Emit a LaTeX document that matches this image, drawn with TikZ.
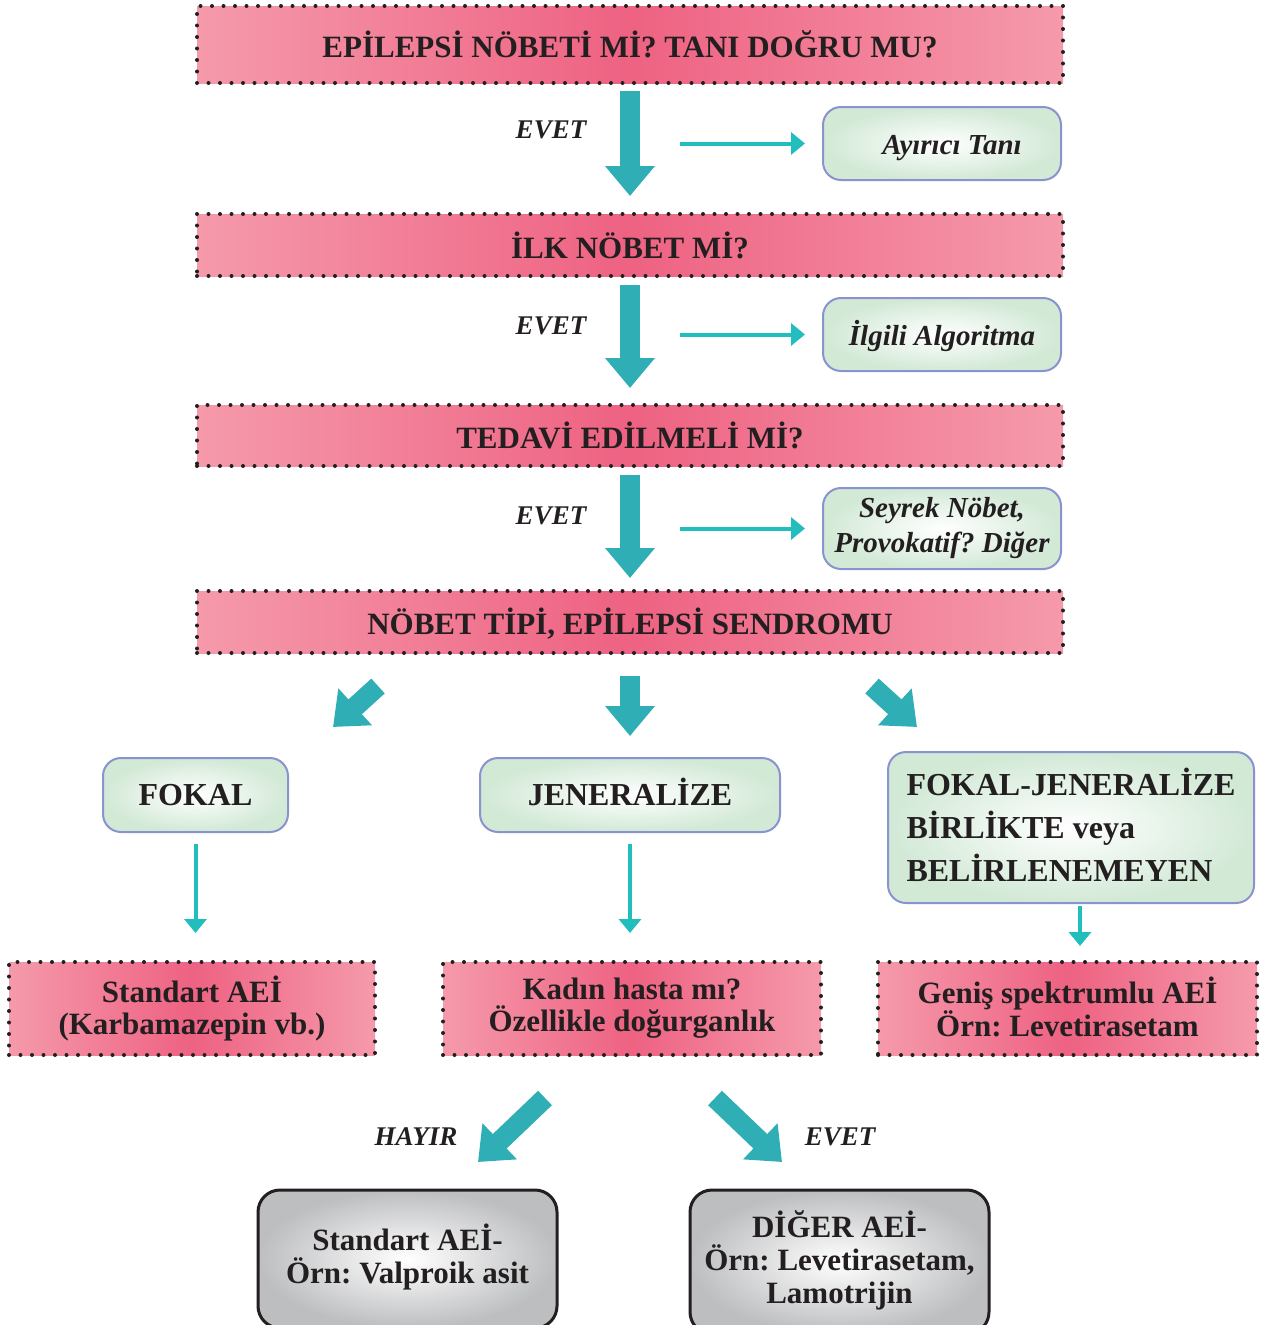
\documentclass[tikz,border=0pt]{standalone}
\usepackage{fontspec}
\setmainfont{Liberation Serif}
\usetikzlibrary{arrows.meta}
\frenchspacing
\newcommand\capstrut{\rule[-3pt]{0pt}{32pt}}
\newcommand\typestrut{\rule[-6pt]{0pt}{32pt}}

\definecolor{pinkL}{HTML}{F59AAB}
\definecolor{pinkD}{HTML}{EE6282}
\definecolor{tealA}{HTML}{2FAFB5}
\definecolor{tealB}{HTML}{22BEBD}
\definecolor{mint}{HTML}{D2E9D6}
\definecolor{lav}{HTML}{8993CF}
\definecolor{grayD}{HTML}{BDBEC0}
\definecolor{ink}{HTML}{231F20}

\begin{document}
\begin{tikzpicture}[x=1pt,y=-1pt,
        banner/.style={draw=ink, line width=4pt, dash pattern=on 0pt off 11.5pt, line cap=round,
                left color=pinkL, right color=pinkL, middle color=pinkD, text=ink, align=center,
                font=\fontsize{31}{32}\selectfont\bfseries, execute at begin node=\capstrut, execute at end node=\capstrut},
        altbox/.style={draw=lav, line width=2pt, rounded corners=18pt, inner color=white, outer color=mint,
                text=ink, align=center, font=\fontsize{29}{35}\selectfont\bfseries\itshape,
                execute at begin node=\capstrut, execute at end node=\capstrut},
        typebox/.style={draw=lav, line width=2pt, rounded corners=18pt, inner color=white, outer color=mint,
                text=ink, align=center, font=\fontsize{32}{43}\selectfont\bfseries,
                execute at begin node=\typestrut, execute at end node=\typestrut},
        drugbox/.style={draw=ink, line width=3pt, rounded corners=22pt, inner color=white, outer color=grayD,
                text=ink, align=center, font=\fontsize{31}{33}\selectfont\bfseries,
                execute at begin node=\strut, execute at end node=\strut},
        bigarrow/.style={draw=tealA, line width=20pt, -{Triangle[width=48pt,length=30pt]}},
        thinarrow/.style={draw=tealB, line width=4pt, -{Triangle[width=22pt,length=14pt]}},
        answer/.style={text=ink, font=\fontsize{27}{30}\selectfont\bfseries\itshape}]

        \useasboundingbox (0,0) rectangle (1262,1325);
        \clip (0,0) rectangle (1262,1325);

        % questions
        \node[banner, minimum width=866pt, minimum height=77pt] (q1) at (630,44.5) {EPİLEPSİ NÖBETİ Mİ? TANI DOĞRU MU?};
        \node[banner, minimum width=866pt, minimum height=62pt] (q2) at (630,245) {İLK NÖBET Mİ?};
        \node[banner, minimum width=866pt, minimum height=61pt] (q3) at (630,435.5) {TEDAVİ EDİLMELİ Mİ?};
        \node[banner, minimum width=866pt, minimum height=62pt] (q4) at (630,622) {NÖBET TİPİ, EPİLEPSİ SENDROMU};

        % side boxes
        \node[altbox, minimum width=238pt, minimum height=73pt] (ayirici) at (942,143.5) {\hspace{20pt}Ayırıcı Tanı};
        \node[altbox, minimum width=238pt, minimum height=73pt] (algo) at (942,334.5) {İlgili Algoritma};
        \node[altbox, minimum width=238pt, minimum height=81pt] (seyrek) at (942,528.5) {Seyrek Nöbet,\\Provokatif? Diğer};

        % seizure types
        \node[typebox, minimum width=185pt, minimum height=74pt] (fokal) at (195.5,795) {FOKAL};
        \node[typebox, minimum width=300pt, minimum height=74pt] (jen) at (630,795) {JENERALİZE};
        \node[typebox, minimum width=366pt, minimum height=151pt, align=left] (fj) at (1071,827.5) {FOKAL-JENERALİZE\\BİRLİKTE veya\\BELİRLENEMEYEN};

        % drugs
        \node[banner, minimum width=366pt, minimum height=93pt] (std) at (192,1008.5) {Standart AEİ\\(Karbamazepin vb.)};
        \node[banner, minimum width=378pt, minimum height=93pt] (kadin) at (632,1008.5) {Kadın hasta mı?\\Özellikle doğurganlık};
        \node[banner, minimum width=379pt, minimum height=93pt] (genis) at (1067.5,1008.5) {Geniş spektrumlu AEİ\\Örn: Levetirasetam};

        \node[drugbox, minimum width=299pt, minimum height=138pt] (valp) at (407.5,1259) {Standart AEİ-\\Örn: Valproik asit};
        \node[drugbox, minimum width=299pt, minimum height=144pt] (diger) at (839.5,1262) {DİĞER AEİ-\\Örn: Levetirasetam,\\Lamotrijin};

        % yes / no
        \node[answer] (e1) at (551,130) {EVET};
        \node[answer] (e2) at (551,326) {EVET};
        \node[answer] (e3) at (551,516) {EVET};
        \node[answer] (hayir) at (416,1137) {HAYIR};
        \node[answer] (e4) at (840,1137) {EVET};

        % main flow
        \draw[bigarrow, shorten <=6pt, shorten >=16pt] (q1) -- coordinate (m1) (q2);
        \draw[bigarrow, shorten <=7pt, shorten >=15pt] (q2) -- coordinate (m2) (q3);
        \draw[bigarrow, shorten <=7pt, shorten >=11pt] (q3) -- coordinate (m3) (q4);

        \draw[thinarrow, shorten >=17pt] ([xshift=50pt]m1 |- ayirici) -- (ayirici);
        \draw[thinarrow, shorten >=17pt] ([xshift=50pt]m2 |- algo) -- (algo);
        \draw[thinarrow, shorten >=17pt] ([xshift=50pt]m3 |- seyrek) -- (seyrek);

        % split into types
        \coordinate (fs) at (378,686);
        \coordinate (ft) at (333,727);
        \coordinate (rs) at (872,686);
        \coordinate (rt) at (917,727);
        \draw[bigarrow] (fs) -- (ft);
        \draw[bigarrow, shorten <=21pt, shorten >=21pt] (q4) -- (jen);
        \draw[bigarrow] (rs) -- (rt);

        \draw[thinarrow, shorten <=11pt, shorten >=27pt] (fokal) -- (fokal |- std.north);
        \draw[thinarrow, shorten <=11pt, shorten >=27pt] (jen) -- (jen |- kadin.north);
        \draw[thinarrow, shorten <=2pt, shorten >=14pt] ([xshift=9pt]fj.south) -- ([xshift=9pt]fj.south |- genis.north);

        % woman?
        \coordinate (hs) at (545,1098);
        \coordinate (ht) at (478,1162);
        \coordinate (es) at (715,1098);
        \coordinate (et) at (782,1162);
        \draw[bigarrow] (hs) -- (ht);
        \draw[bigarrow] (es) -- (et);
\end{tikzpicture}
\end{document}
